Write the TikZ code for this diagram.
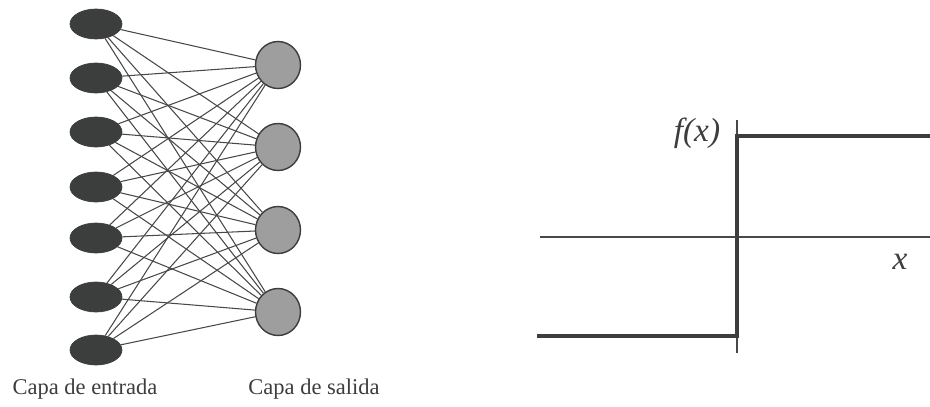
\documentclass[tikz,border=0pt]{standalone}
\usepackage{fontspec}
\setmainfont{Liberation Serif}
\usepackage{tikz}
\usetikzlibrary{calc,positioning,shapes.geometric}
\definecolor{tinta}{HTML}{3B3E3D}
\definecolor{gris}{HTML}{9E9E9E}
\definecolor{linea}{HTML}{484848}

\begin{document}
\begin{tikzpicture}[x=0.02cm,y=-0.02cm,
  entrada/.style={ellipse,draw=tinta,fill=tinta,minimum width=1.04cm,minimum height=0.6cm,inner sep=0pt},
  salida/.style={ellipse,draw=tinta,fill=gris,line width=0.8pt,minimum width=0.9cm,minimum height=0.94cm,inner sep=0pt},
  arista/.style={draw=linea,line width=0.6pt},
  eje/.style={draw=linea,line width=0.7pt},
  escalon/.style={draw=tinta,line width=2.8pt,line join=miter},
  every node/.style={text=tinta}]
\useasboundingbox (0,0) rectangle (930,406);
% capa de entrada
\foreach \i/\y in {1/24,2/78,3/132,4/187,5/238,6/297,7/350}{
\node[entrada] (e\i) at (96,\y) {};}
% capa de salida
\foreach \j/\y in {1/65,2/147,3/230,4/312}{
\node[salida] (s\j) at (278,\y) {};}
\foreach \i in {1,...,7}{
\foreach \j in {1,...,4}{
\draw[arista] (e\i) -- (s\j);}}
\node[font=\fontsize{12.8}{15}\selectfont] (capaE) at (85,389) {Capa de entrada};
\node[font=\fontsize{12.8}{15}\selectfont] (capaS) at (314,389) {Capa de salida};
% funcion escalon
\coordinate (ejeA) at (540,237);
\coordinate (ejeB) at (930,237);
\coordinate (vA) at (737,120);
\coordinate (vB) at (737,353);
\coordinate (p0) at (537,336);
\coordinate (p1) at (737,336);
\coordinate (p2) at (737,136);
\coordinate (p3) at (930,136);
\draw[eje] (ejeA) -- (ejeB);
\draw[eje] (vA) -- (vB);
\draw[escalon] (p0) -- (p1) -- (p2) -- (p3);
\node[font=\fontsize{19}{21}\selectfont] (fx) at (697,133) {\textit{f(x)}};
\node[font=\fontsize{19}{21}\selectfont] (xlab) at (900,262) {\textit{x}};
\end{tikzpicture}
\end{document}
